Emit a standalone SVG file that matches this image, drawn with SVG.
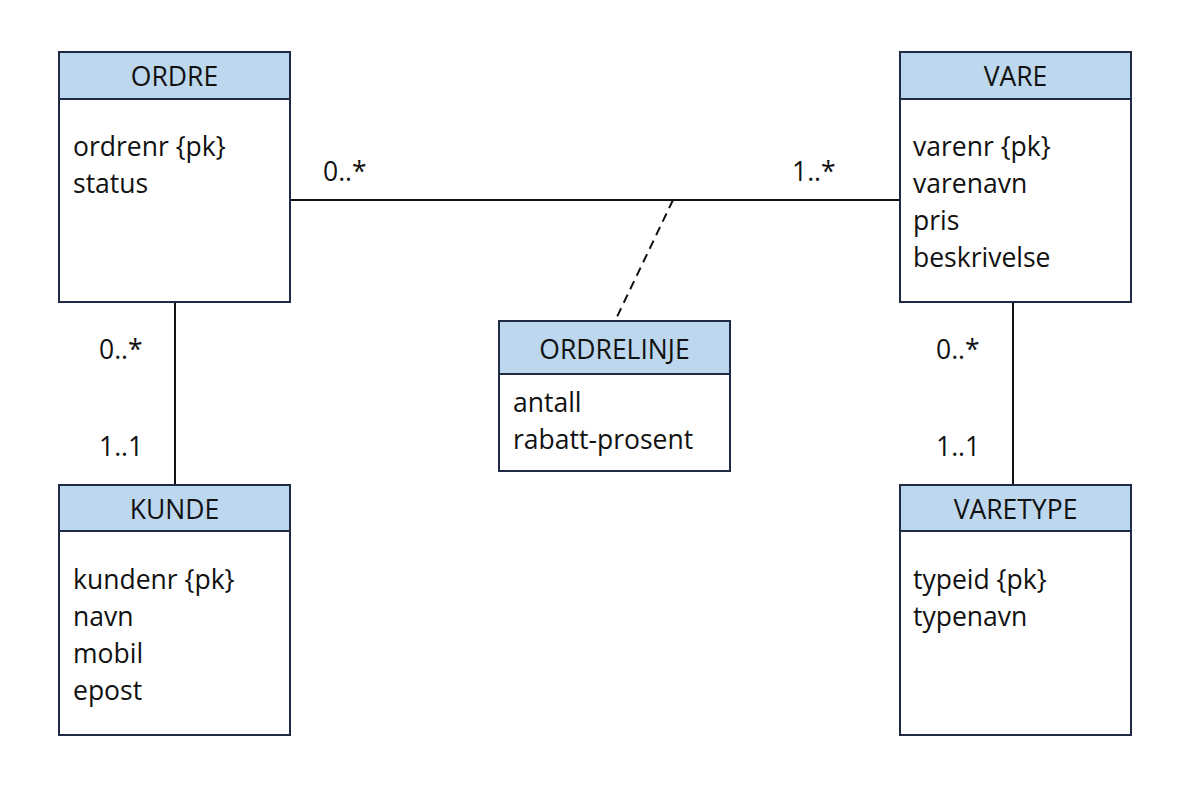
<svg xmlns="http://www.w3.org/2000/svg" width="1200" height="794" viewBox="0 0 1200 794">
<style>
.box{fill:#ffffff;stroke:#1f2a44;stroke-width:2}
.hdr{fill:#bdd7ee;stroke:#1f2a44;stroke-width:2}
text{font-family:"Open Sans","Noto Sans",sans-serif;font-size:26.5px;fill:#111111}
.t{text-anchor:middle}
.ln{stroke:#111111;stroke-width:2;fill:none}
.dash{stroke:#111111;stroke-width:2;fill:none;stroke-dasharray:9 6}
</style>
<rect width="1200" height="794" fill="#ffffff"/>
<g id="connectors">
<line class="ln" x1="290" y1="200" x2="900" y2="200"/>
<line class="dash" x1="673" y1="200" x2="615" y2="321"/>
<line class="ln" x1="175" y1="302" x2="175" y2="485"/>
<line class="ln" x1="1013" y1="302" x2="1013" y2="485"/>
<text x="323" y="181">0..*</text>
<text x="792" y="181">1..*</text>
<text x="99" y="359">0..*</text>
<text x="99" y="456">1..1</text>
<text x="936" y="359">0..*</text>
<text x="936" y="456">1..1</text>
</g>
<g id="ordre">
<rect class="box" x="59" y="52" width="231" height="250"/>
<rect class="hdr" x="59" y="52" width="231" height="47"/>
<text class="t" x="174.5" y="86">ORDRE</text>
<text x="73" y="156">ordrenr {pk}</text>
<text x="73" y="193">status</text>
</g>
<g id="vare">
<rect class="box" x="900" y="52" width="231" height="250"/>
<rect class="hdr" x="900" y="52" width="231" height="47"/>
<text class="t" x="1015.5" y="86">VARE</text>
<text x="913" y="156">varenr {pk}</text>
<text x="913" y="193">varenavn</text>
<text x="913" y="230">pris</text>
<text x="913" y="267">beskrivelse</text>
</g>
<g id="ordrelinje">
<rect class="box" x="499" y="321" width="231" height="150"/>
<rect class="hdr" x="499" y="321" width="231" height="53"/>
<text class="t" x="614.5" y="359">ORDRELINJE</text>
<text x="513" y="412">antall</text>
<text x="513" y="449">rabatt-prosent</text>
</g>
<g id="kunde">
<rect class="box" x="59" y="485" width="231" height="250"/>
<rect class="hdr" x="59" y="485" width="231" height="46"/>
<text class="t" x="174.5" y="519">KUNDE</text>
<text x="73" y="589">kundenr {pk}</text>
<text x="73" y="626">navn</text>
<text x="73" y="663">mobil</text>
<text x="73" y="700">epost</text>
</g>
<g id="varetype">
<rect class="box" x="900" y="485" width="231" height="250"/>
<rect class="hdr" x="900" y="485" width="231" height="46"/>
<text class="t" x="1015.5" y="519">VARETYPE</text>
<text x="913" y="589">typeid {pk}</text>
<text x="913" y="626">typenavn</text>
</g>
</svg>
